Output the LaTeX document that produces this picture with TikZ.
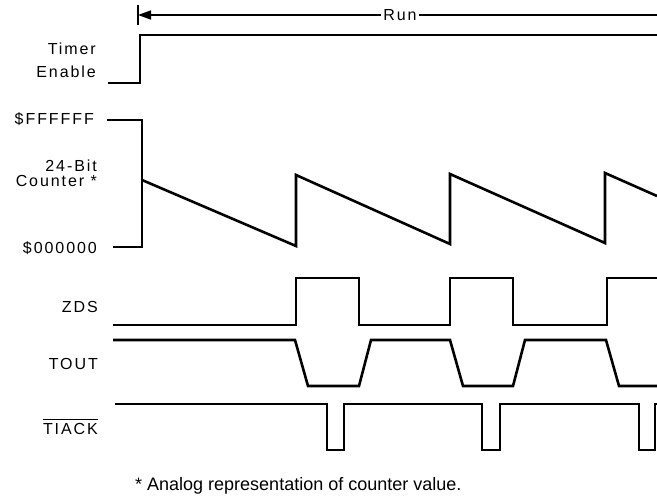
\documentclass[tikz,border=0pt]{standalone}
\usepackage{fontspec}
\setmainfont{Liberation Sans}
\newfontfamily\sigfont[LetterSpace=12]{Liberation Sans}
\usetikzlibrary{arrows.meta, positioning}

\begin{document}
\begin{tikzpicture}[x=1pt, y=-1pt,
    wave/.style={line width=2.6pt, line join=miter},
    runline/.style={line width=1.6pt},
    sig/.style={anchor=base east, inner sep=0pt, font=\sigfont\fontsize{16}{19}\selectfont}]
    \useasboundingbox (0,0) rectangle (657,497);

    % Run interval
    \node[inner sep=2pt, font=\sigfont\fontsize{16}{19}\selectfont] (run) at (400,15) {Run};
    \coordinate (runstart) at (138,15);
    \coordinate (runend) at (657,15);
    \draw[runline, -{Triangle[length=13pt,width=9pt]}] (run) -- (runstart);
    \draw[runline] (run) -- (runend);
    \draw[runline] ([yshift=10pt]runstart) -- ([yshift=-10pt]runstart);

    % Timer enable
    \node[sig] (timer) at (96,55) {Timer};
    \node[sig] (enable) at (96,78) {Enable};
    \draw[wave] (108,83) -- (140,83) -- (140,35) -- (657,35);

    % 24-bit counter (analog)
    \node[sig] (ffff) at (94,125) {\$FFFFFF};
    \node[sig] (bits) at (97,172) {24-Bit};
    \node[sig] (counter) at (97,187) {Counter *};
    \node[sig] (zero) at (97,254) {\$000000};
    \draw[wave] (107,120) -- (142,120) -- (142,247) -- (113,247);
    \draw[wave] (142,180) -- (296,246) -- (296,175) -- (450,244) -- (450,174)
        -- (605,243) -- (605,173) -- (657,196);

    % ZDS
    \node[sig] (zds) at (98,313) {ZDS};
    \draw[wave] (113,325) -- (296,325) -- (296,278) -- (359,278) -- (359,325)
        -- (450,325) -- (450,278) -- (513,278) -- (513,325) -- (607,325)
        -- (607,278) -- (657,278);

    % TOUT
    \node[sig] (tout) at (98,370) {TOUT};
    \draw[wave] (113,340) -- (295,340) -- (308,386) -- (359,386) -- (371,340)
        -- (450,340) -- (463,386) -- (513,386) -- (525,340) -- (606,340)
        -- (619,386) -- (657,386);

    % TIACK
    \node[sig] (tiack) at (98,435) {TIACK};
    \draw[line width=1pt] ([yshift=4pt]tiack.north west) -- ([yshift=4pt]tiack.north east);
    \draw[wave] (115,404) -- (327,404) -- (327,450) -- (344,450) -- (344,404)
        -- (482,404) -- (482,450) -- (500,450) -- (500,404) -- (639,404)
        -- (639,450) -- (655,450) -- (655,404) -- (657,404);

    % footnote
    \node[anchor=base west, inner sep=0pt, font=\fontsize{18}{20}\selectfont] (note) at (135,490)
        {* Analog representation of counter value.};
\end{tikzpicture}
\end{document}
